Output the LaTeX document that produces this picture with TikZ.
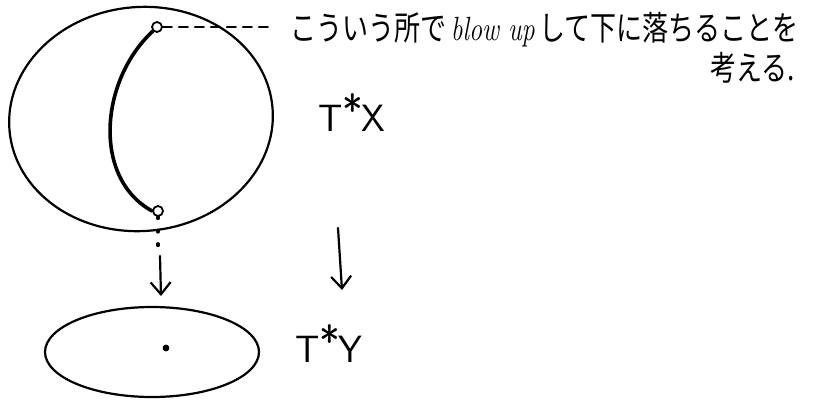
\documentclass[tikz,border=0pt]{standalone}
\usepackage{fontspec}
\newfontfamily\jpfont{Noto Sans CJK JP}
\usetikzlibrary{arrows.meta,positioning}

\newcommand{\bigast}{\kern-0.5pt\raisebox{5pt}{\fontsize{44}{44}\selectfont *}\kern-1pt}

\tikzset{
  pen/.style={line width=2.2pt},
  endpt/.style={circle, draw, line width=1.8pt, fill=white, inner sep=0pt, minimum size=10pt},
  spacelabel/.style={inner sep=0pt, font=\sffamily\fontsize{38}{40}\selectfont},
  note/.style={inner sep=0pt, font=\jpfont\fontsize{28}{32}\selectfont}
}

\begin{document}
\begin{tikzpicture}[x=1pt, y=-1pt, >={Straight Barb[length=12pt,width=20pt]}, line cap=round, line join=round]
  \useasboundingbox (0,0) rectangle (821,405);

  % T^*X
  \draw[pen, rotate around={5:(141,119)}] (141,119) ellipse [x radius=132, y radius=112];
  \node[endpt] (top) at (157,27) {};
  \node[endpt] (bot) at (158,211) {};
  \draw[line width=3.6pt] (top.south west) .. controls (100,80) and (92,178) .. (bot.west);

  \coordinate (dashend) at (270,27);
  \draw[line width=1.8pt, dash pattern=on 9pt off 7pt] (top.east) -- (dashend);

  % T^*Y
  \draw[pen] (152,352) ellipse [x radius=107, y radius=45];
  \fill (166,348) circle [radius=3.4];

  % projection
  \coordinate (dotend) at (158,250);
  \coordinate (fibtop) at (160,256);
  \coordinate (fibbot) at (161,296);
  \draw[line width=3.5pt, dash pattern=on 1.5pt off 12pt] (bot.south) -- (dotend);
  \draw[pen, ->] (fibtop) -- (fibbot);

  \node[spacelabel, anchor=base west] (TX) at (318,131) {T\bigast X};
  \node[spacelabel, anchor=base west] (TY) at (295,362) {T\bigast Y};
  \coordinate (maptop) at (338,228);
  \coordinate (mapbot) at (342,290);
  \draw[pen, ->] (maptop) -- (mapbot);

  \node[note, anchor=base west] (line1) at (290,40)
    {\scalebox{0.93}[1.2]{こういう所で\,{\rmfamily\itshape blow up}\,して下に落ちることを}};
  \node[note, anchor=base east] (line2) at (795,80) {\scalebox{0.93}[1.2]{考える.}};
\end{tikzpicture}
\end{document}
